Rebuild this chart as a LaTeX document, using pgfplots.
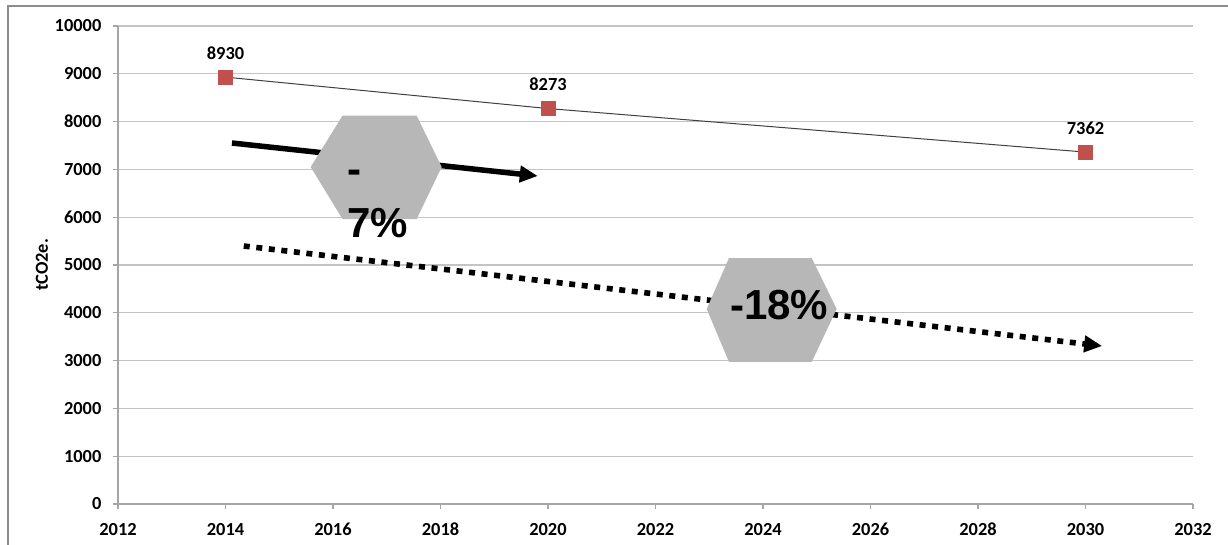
\documentclass[border=0pt]{standalone}
\usepackage{pgfplots}
\pgfplotsset{compat=1.18}
\usetikzlibrary{arrows.meta}
\usepackage{fontspec}
\setmainfont{Carlito}
\newfontfamily\arialfont{Liberation Sans}
\definecolor{gridc}{HTML}{C4C4C4}
\definecolor{axisc}{HTML}{A6A6A6}
\definecolor{framec}{HTML}{8C8C8C}
\definecolor{markc}{HTML}{C0504D}
\definecolor{linec}{HTML}{404040}
\definecolor{hexc}{HTML}{B7B7B7}
\begin{document}
\begin{tikzpicture}
\useasboundingbox (0,0) rectangle (614pt,272.5pt);
\fill[white] (0,0) rectangle (614pt,272.5pt);
\draw[color=framec, line width=1pt] (3.75pt,-5pt) -- (3.75pt,269.5pt) -- (620pt,269.5pt);
\begin{axis}[
  at={(59pt,20.5pt)}, anchor=south west,
  scale only axis, width=537.5pt, height=239pt,
  xmin=2012, xmax=2032, ymin=0, ymax=10000,
  xtick={2012,2014,...,2032}, ytick={0,1000,...,10000},
  scaled y ticks=false, scaled x ticks=false,
  axis x line*=bottom, axis y line*=left,
  axis line style={draw=axisc, line width=0.6pt, -},
  ymajorgrids, grid style={draw=gridc, line width=0.6pt},
  tick align=outside, major tick length=2.5pt,
  tick style={draw=axisc, line width=0.6pt},
  /pgf/number format/assume math mode=true,
  /pgf/number format/1000 sep={},
  tick label style={font=\bfseries\fontsize{9.2}{11}\selectfont},
  yticklabel style={xshift=-2.3pt},
  xticklabel style={yshift=-3.5pt},
  ylabel={tCO2e.},
  ylabel style={at={(axis description cs:-0.0707,0.5)}, anchor=center, font=\bfseries\fontsize{9.2}{11}\selectfont},
  clip=false,
]
\addplot[color=linec, line width=0.5pt, mark=square*,
  mark options={fill=markc, draw=markc, mark size=3.5pt},
  nodes near coords,
  every node near coord/.style={anchor=center, yshift=12pt, text=black, font=\bfseries\fontsize{9.2}{11}\selectfont},
  point meta=explicit symbolic]
  coordinates {(2014,8930)[8930] (2020,8273)[8273] (2030,7362)[7362]};
% trend arrows (annotations)
\draw[line width=2.75pt, -{Triangle[length=9pt,width=8pt]}] (axis cs:2014.12,7552) -- (axis cs:2019.81,6862);
\draw[line width=2.8pt, dash pattern=on 3pt off 3.3pt, -{Triangle[length=9pt,width=8pt]}] (axis cs:2014.34,5397) -- (axis cs:2030.31,3305);
% hexagon badges
\fill[hexc] (axis cs:2015.585,7050) -- (axis cs:2016.177,8123) -- (axis cs:2017.557,8123) -- (axis cs:2018.022,7050) -- (axis cs:2017.557,5962) -- (axis cs:2016.177,5962) -- cycle;
\fill[hexc] (axis cs:2022.953,4079) -- (axis cs:2023.367,5146) -- (axis cs:2024.906,5146) -- (axis cs:2025.371,4079) -- (axis cs:2024.906,2971) -- (axis cs:2023.367,2971) -- cycle;
\node[anchor=base west, inner sep=0pt, font=\arialfont\bfseries\fontsize{21}{25}\selectfont] at (axis cs:2016.26,6715) {-};
\node[anchor=base west, inner sep=0pt, font=\arialfont\bfseries\fontsize{21}{25}\selectfont] at (axis cs:2016.26,5580) {7\%};
\node[anchor=base, inner sep=0pt, font=\arialfont\bfseries\fontsize{21}{25}\selectfont] at (axis cs:2024.3,3870) {-18\%};
\end{axis}
\end{tikzpicture}
\end{document}
